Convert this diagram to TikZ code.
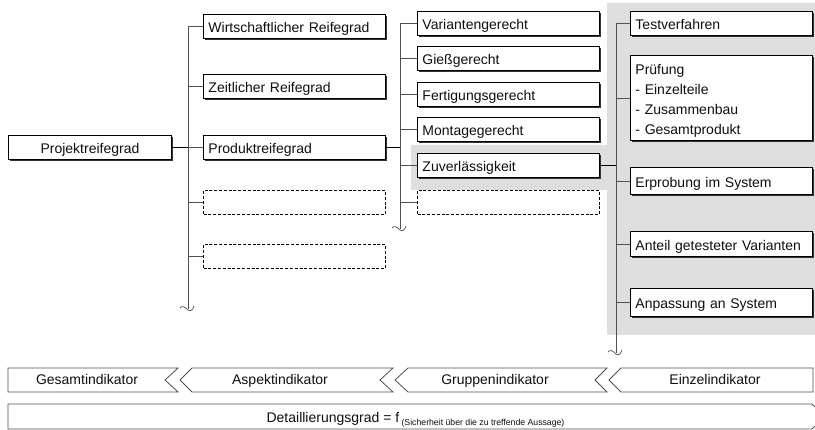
\documentclass[tikz,border=0pt]{standalone}
\usepackage{fontspec}
\setmainfont{Liberation Sans}
\usetikzlibrary{shadows}
\definecolor{panelgray}{RGB}{222,222,222}
\definecolor{linegray}{RGB}{80,80,80}
\definecolor{inkgray}{RGB}{15,15,15}
\begin{document}
\begin{tikzpicture}[x=1pt,y=-1pt,
  every node/.style={font=\fontsize{14}{17}\selectfont, text=inkgray},
  item/.style={draw=black, line width=0.9pt, fill=white, anchor=north west,
    inner xsep=5pt, inner ysep=0pt, align=left, text width=172pt,
    minimum height=24pt, text height=13pt, text depth=0pt,
    drop shadow={shadow xshift=2pt, shadow yshift=-2pt, fill=black!80, opacity=1}},
  rootitem/.style={item, align=center, text width=153pt},
  emptyitem/.style={draw=black, line width=1.2pt, dash pattern=on 3pt off 1.8pt,
    fill=white, anchor=north west, inner sep=0pt, minimum width=182pt, minimum height=24pt},
  link/.style={draw=linegray, line width=0.8pt},
  mainlink/.style={draw=black, line width=1.8pt},
  band/.style={draw=linegray, line width=0.8pt, fill=white},
  wavyend/.pic={\draw[linegray, line width=0.7pt]
    (-8,-1) .. controls (-6,-4) and (-3,-2) .. (0,1) .. controls (2,3) and (5,1) .. (6,-3);}
]
\useasboundingbox (0,0) rectangle (815,430);
\clip (0,0) rectangle (815,430);

% highlighted branch
\fill[panelgray] (411,145) -- (607,145) -- (607,3) -- (815,3) -- (815,335)
  -- (607,335) -- (607,190) -- (411,190) -- cycle;

% root
\node[rootitem] (proj) at (8,135) {Projektreifegrad};

% first level
\node[item] (wirt) at (203,14)  {Wirtschaftlicher Reifegrad};
\node[item] (zeit) at (203,74)  {Zeitlicher Reifegrad};
\node[item] (prod) at (203,135) {Produktreifegrad};
\node[emptyitem] (e1a) at (203,190) {};
\node[emptyitem] (e1b) at (203,244) {};

% second level
\node[item] (var)  at (417,11)  {Variantengerecht};
\node[item] (giess) at (417,46) {Gießgerecht};
\node[item] (fert) at (417,82)  {Fertigungsgerecht};
\node[item] (mont) at (417,117) {Montagegerecht};
\node[item] (zuv)  at (417,153) {Zuverlässigkeit};
\node[emptyitem] (e2) at (417,190) {};

% third level
\node[item, minimum height=85pt, text height=13pt, text depth=59pt,
  font=\fontsize{14}{19.8}\selectfont] (pruef) at (630,55)
  {Prüfung\\- Einzelteile\\- Zusammenbau\\- Gesamtprodukt};
\node[item] (test) at (630,11) {Testverfahren};
\node[item, minimum height=27pt] (erpr) at (630,167) {Erprobung im System};
\node[item, minimum height=25pt] (ant)  at (630,231) {Anteil getesteter Varianten};
\node[item, minimum height=28pt] (anp)  at (630,288) {Anpassung an System};

% trunk ends
\coordinate (t1) at (188,309);
\coordinate (t2) at (400,229);
\coordinate (t3) at (616,353);

% trunks
\draw[link] (t1 |- wirt.west) -- (t1);
\draw[link] (t2 |- var.west) -- (t2);
\draw[link] (t3 |- test.west) -- (t3);
\pic at (t1) {wavyend};
\pic at (t2) {wavyend};
\pic at (t3) {wavyend};

% branches
\foreach \n in {wirt,zeit,prod,e1a,e1b} \draw[link] (\n.west) -- (\n.west -| t1);
\foreach \n in {var,giess,fert,mont,zuv,e2} \draw[link] (\n.west) -- (\n.west -| t2);
\foreach \n in {test,pruef,erpr,ant,anp} \draw[link] (\n.west) -- (\n.west -| t3);

% expanded parents
\draw[mainlink] (proj.east) -- (proj.east -| t1);
\draw[mainlink] (prod.east) -- (prod.east -| t2);
\draw[mainlink] (zuv.east) -- (zuv.east -| t3);

% indicator scale
\draw[band] (8,368) -- (178,368) -- (165,380) -- (178,392) -- (8,392) -- cycle;
\draw[band] (192,368) -- (393,368) -- (380,380) -- (393,392) -- (192,392) -- (180,380) -- cycle;
\draw[band] (408,368) -- (607,368) -- (595,380) -- (607,392) -- (408,392) -- (395,380) -- cycle;
\draw[band] (621,368) -- (813,368) -- (813,392) -- (621,392) -- (609,380) -- cycle;
\node[anchor=base] (ges) at (87,385)  {Gesamtindikator};
\node[anchor=base] (asp) at (280,385) {Aspektindikator};
\node[anchor=base] (gru) at (495,385) {Gruppenindikator};
\node[anchor=base] (ein) at (715,385) {Einzelindikator};

% level of detail
\draw[band] (8,404) -- (812,404) -- (825,416.5) -- (812,429) -- (8,429) -- cycle;
\node[anchor=base] (detail) at (415.5,423)
  {Detaillierungsgrad = f\,\raisebox{-2.5pt}{\fontsize{8.7}{10}\selectfont(Sicherheit über die zu treffende Aussage)}};
\end{tikzpicture}
\end{document}
